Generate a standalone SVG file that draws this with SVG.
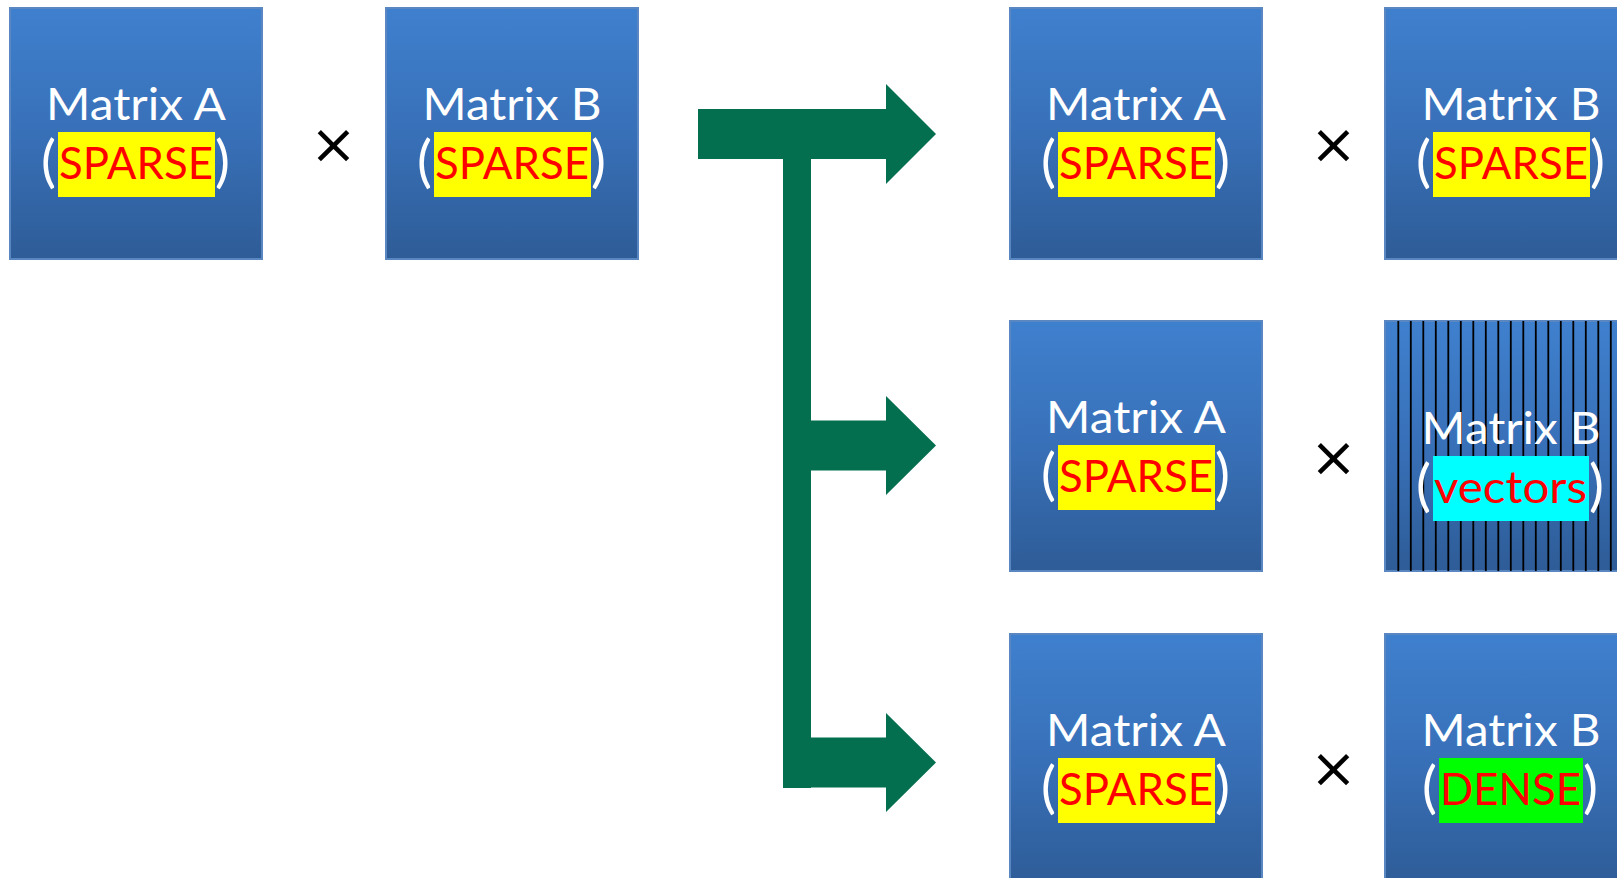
<svg xmlns="http://www.w3.org/2000/svg" width="1617" height="878" viewBox="0 0 1617 878">
  <defs>
    <linearGradient id="boxFill" x1="0" y1="0" x2="0" y2="1">
      <stop offset="0" stop-color="#3F80CE"/>
      <stop offset="0.5" stop-color="#3870B8"/>
      <stop offset="1" stop-color="#2E5C97"/>
    </linearGradient>
    <style>
      .box { fill: url(#boxFill); stroke: #5A86C2; stroke-width: 2; }
      .lbl { font-family: Lato, "Open Sans", "Liberation Sans", sans-serif; font-size: 45px; fill: #FFFFFF; }
      .paren { font-family: Lato, "Open Sans", "Liberation Sans", sans-serif; font-size: 56px; fill: #FFFFFF; }
      .kind { font-family: Lato, "Open Sans", "Liberation Sans", sans-serif; font-size: 45px; fill: #FF0000; }
      .hl-sparse { fill: #FFFF00; }
      .hl-vectors { fill: #00FFFF; }
      .hl-dense { fill: #00FF00; }
      .times { font-family: "DejaVu Sans", sans-serif; font-size: 56px; fill: #000000; text-anchor: middle; }
      .arrow { fill: #036F4F; }
      .stripes { stroke: #000000; stroke-width: 1.8; fill: none; }
    </style>
  </defs>

  <rect width="1617" height="878" fill="#FFFFFF"/>

  <!-- source product -->
  <g id="src-a" transform="translate(10,8)">
    <rect class="box" x="0" y="0" width="252" height="251"/>
    <text class="lbl" x="126" y="112" text-anchor="middle" textLength="180" lengthAdjust="spacingAndGlyphs">Matrix A</text>
    <rect class="hl-sparse" x="48" y="124" width="157" height="65"/>
    <text class="paren" x="46" y="173" text-anchor="end">(</text>
    <text class="kind" x="49" y="171" textLength="154" lengthAdjust="spacingAndGlyphs">SPARSE</text>
    <text class="paren" x="205" y="173">)</text>
  </g>
  <text id="src-times" class="times" x="333.5" y="163">×</text>
  <g id="src-b" transform="translate(386,8)">
    <rect class="box" x="0" y="0" width="252" height="251"/>
    <text class="lbl" x="126" y="112" text-anchor="middle" textLength="179" lengthAdjust="spacingAndGlyphs">Matrix B</text>
    <rect class="hl-sparse" x="48" y="124" width="157" height="65"/>
    <text class="paren" x="46" y="173" text-anchor="end">(</text>
    <text class="kind" x="49" y="171" textLength="154" lengthAdjust="spacingAndGlyphs">SPARSE</text>
    <text class="paren" x="205" y="173">)</text>
  </g>

  <!-- branching connector -->
  <g id="connectors">
    <polygon class="arrow" points="698,109 811,109 811,788 783,788 783,159 698,159"/>
    <polygon class="arrow" points="811,109 886,109 886,84 936,134 886,184 886,159 811,159"/>
    <polygon class="arrow" points="811,420.5 886,420.5 886,396 936,445.5 886,495 886,470.5 811,470.5"/>
    <polygon class="arrow" points="811,737.5 886,737.5 886,713 936,762.5 886,812 886,787.5 811,787.5"/>
  </g>

  <!-- case 1: sparse x sparse -->
  <g id="r1-a" transform="translate(1010,8)">
    <rect class="box" x="0" y="0" width="252" height="251"/>
    <text class="lbl" x="126" y="112" text-anchor="middle" textLength="180" lengthAdjust="spacingAndGlyphs">Matrix A</text>
    <rect class="hl-sparse" x="48" y="124" width="157" height="65"/>
    <text class="paren" x="46" y="173" text-anchor="end">(</text>
    <text class="kind" x="49" y="171" textLength="154" lengthAdjust="spacingAndGlyphs">SPARSE</text>
    <text class="paren" x="205" y="173">)</text>
  </g>
  <text id="r1-times" class="times" x="1333.5" y="163">×</text>
  <g id="r1-b" transform="translate(1385,8)">
    <rect class="box" x="0" y="0" width="252" height="251"/>
    <text class="lbl" x="126" y="112" text-anchor="middle" textLength="179" lengthAdjust="spacingAndGlyphs">Matrix B</text>
    <rect class="hl-sparse" x="48" y="124" width="157" height="65"/>
    <text class="paren" x="46" y="173" text-anchor="end">(</text>
    <text class="kind" x="49" y="171" textLength="154" lengthAdjust="spacingAndGlyphs">SPARSE</text>
    <text class="paren" x="205" y="173">)</text>
  </g>

  <!-- case 2: sparse x column vectors -->
  <g id="r2-a" transform="translate(1010,321)">
    <rect class="box" x="0" y="0" width="252" height="250"/>
    <text class="lbl" x="126" y="112" text-anchor="middle" textLength="180" lengthAdjust="spacingAndGlyphs">Matrix A</text>
    <rect class="hl-sparse" x="48" y="124" width="157" height="65"/>
    <text class="paren" x="46" y="173" text-anchor="end">(</text>
    <text class="kind" x="49" y="171" textLength="154" lengthAdjust="spacingAndGlyphs">SPARSE</text>
    <text class="paren" x="205" y="173">)</text>
  </g>
  <text id="r2-times" class="times" x="1333.5" y="475.5">×</text>
  <g id="r2-b" transform="translate(1385,321)">
    <rect class="box" x="0" y="0" width="252" height="250"/>
    <path class="stripes" d="M13.3 0V250M25.8 0V250M38.3 0V250M50.8 0V250M63.3 0V250M75.8 0V250M88.3 0V250M100.8 0V250M113.3 0V250M125.8 0V250M138.3 0V250M150.8 0V250M163.3 0V250M175.8 0V250M188.3 0V250M200.8 0V250M213.3 0V250M225.8 0V250"/>
    <text class="lbl" x="126" y="123" text-anchor="middle" textLength="179" lengthAdjust="spacingAndGlyphs">Matrix B</text>
    <rect class="hl-vectors" x="48" y="135" width="156" height="65"/>
    <text class="paren" x="46" y="184" text-anchor="end">(</text>
    <text class="kind" x="49" y="182" textLength="153" lengthAdjust="spacingAndGlyphs">vectors</text>
    <text class="paren" x="204" y="184">)</text>
  </g>

  <!-- case 3: sparse x dense -->
  <g id="r3-a" transform="translate(1010,634)">
    <rect class="box" x="0" y="0" width="252" height="251"/>
    <text class="lbl" x="126" y="112" text-anchor="middle" textLength="180" lengthAdjust="spacingAndGlyphs">Matrix A</text>
    <rect class="hl-sparse" x="48" y="124" width="157" height="65"/>
    <text class="paren" x="46" y="173" text-anchor="end">(</text>
    <text class="kind" x="49" y="171" textLength="154" lengthAdjust="spacingAndGlyphs">SPARSE</text>
    <text class="paren" x="205" y="173">)</text>
  </g>
  <text id="r3-times" class="times" x="1333.5" y="787">×</text>
  <g id="r3-b" transform="translate(1385,634)">
    <rect class="box" x="0" y="0" width="252" height="251"/>
    <text class="lbl" x="126" y="112" text-anchor="middle" textLength="179" lengthAdjust="spacingAndGlyphs">Matrix B</text>
    <rect class="hl-dense" x="54" y="124" width="144" height="65"/>
    <text class="paren" x="52" y="173" text-anchor="end">(</text>
    <text class="kind" x="55" y="171" textLength="141" lengthAdjust="spacingAndGlyphs">DENSE</text>
    <text class="paren" x="198" y="173">)</text>
  </g>
</svg>
